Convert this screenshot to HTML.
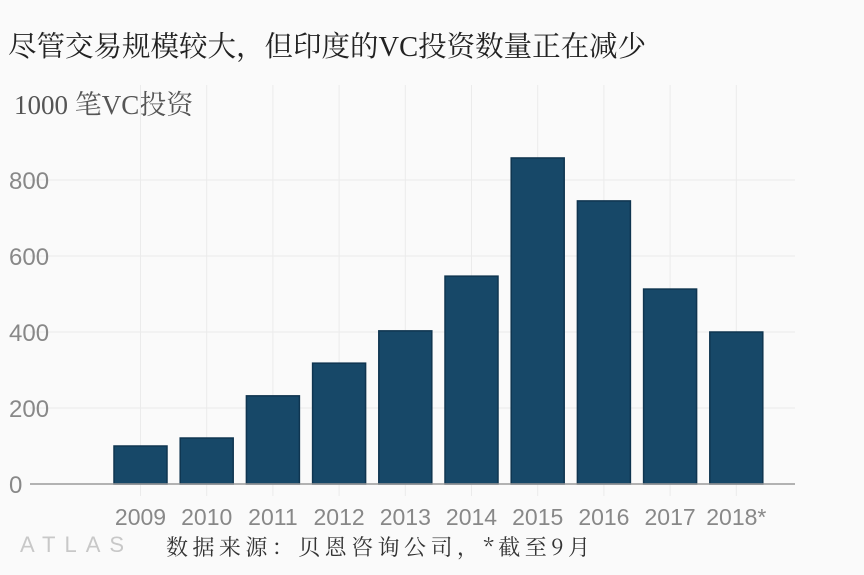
<!DOCTYPE html>
<html><head><meta charset="utf-8"><style>
html,body{margin:0;padding:0;background:#fafafa;width:864px;height:575px;overflow:hidden}
svg{display:block}
</style></head><body>
<svg id="chart" width="864" height="575">
<rect width="864" height="575" fill="#fafafa"/>
<text x="8" y="56" font-family="'Liberation Serif','Noto Serif CJK SC',serif" font-size="28.5" fill="#222">尽管交易规模较大，但印度的VC投资数量正在减少</text>
<text x="14" y="114" font-family="'Liberation Serif','Noto Serif CJK SC',serif" font-size="27" fill="#555">1000 笔VC投资</text>
<g id="grid"></g><g id="bars"></g><g id="axes"></g>
<text x="20" y="552" font-family="'Liberation Sans',sans-serif" font-size="22" fill="#c8c8c8" letter-spacing="9">ATLAS</text>
<text x="166" y="555" font-family="'Noto Serif CJK SC',serif" font-size="22" fill="#333" textLength="424" lengthAdjust="spacing">数据来源：贝恩咨询公司，*截至9月</text>
</svg>
<script>
const categories=["2009","2010","2011","2012","2013","2014","2015","2016","2017","2018*"];
const values=[100,121,232,318,403,547,858,745,513,400];
const yTicks=[0,200,400,600,800];
const NS="http://www.w3.org/2000/svg";
const y0=484,pxPer=0.38;
function yScale(v){return y0-v*pxPer;}
function xCenter(i){return 140.5+i*66.2;}
const bw=53;
function mk(t,a,p){const e=document.createElementNS(NS,t);for(const k in a)e.setAttribute(k,a[k]);p.appendChild(e);return e;}
const grid=document.getElementById('grid'),bars=document.getElementById('bars'),axes=document.getElementById('axes');
yTicks.forEach(v=>{
  if(v>0){const l=mk('line',{x1:30,x2:795,y1:yScale(v),y2:yScale(v),stroke:'#ebebeb','stroke-width':1},grid);
  
  }
  const t=mk('text',{x:9,y:yScale(v)+9,'text-anchor':'start','font-family':"'Liberation Sans',sans-serif",'font-size':24,fill:'#888'},axes);
  t.textContent=v;
  
  
});
categories.forEach((c,i)=>{
  const g=mk('line',{x1:xCenter(i),x2:xCenter(i),y1:85,y2:496,stroke:'#ebebeb','stroke-width':1},grid);
  
  
  const b=mk('rect',{x:xCenter(i)-bw/2,y:yScale(values[i]),width:bw,height:values[i]*pxPer,fill:'#174868',stroke:'#0f3550','stroke-width':1.5},bars);
  
  
  const t=mk('text',{x:xCenter(i),y:525,'text-anchor':'middle','font-family':"'Liberation Sans',sans-serif",'font-size':23,fill:'#888'},axes);
  t.textContent=c;
  
  
});
const ax=mk('line',{x1:30,x2:795,y1:y0,y2:y0,stroke:'#999','stroke-width':1.5},axes);


</script>
</body></html>
